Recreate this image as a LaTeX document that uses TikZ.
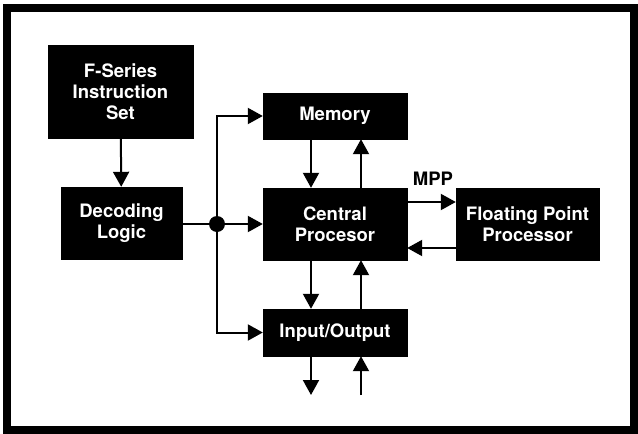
\documentclass[tikz,border=0pt]{standalone}
\usepackage{fontspec}
\setmainfont{TeX Gyre Heros}
\usetikzlibrary{arrows.meta}
\begin{document}
\begin{tikzpicture}[x=1pt,y=-1pt,
  blk/.style={fill=black,draw=black,text=white,inner sep=0pt,align=center,
    font=\fontsize{18.5}{21}\selectfont\bfseries},
  conn/.style={line width=2pt},
  arr/.style={conn,-{Triangle[length=15pt,width=16pt]}},
  lbl/.style={font=\fontsize{18.5}{21}\selectfont\bfseries}]
\useasboundingbox (0,0) rectangle (638,434);
\draw[line width=8pt] (7,8) rectangle (634,430);
\node[blk,minimum width=145pt,minimum height=93pt] (fs) at (120.5,91.5) {F-Series\\Instruction\\Set};
\node[blk,minimum width=121pt,minimum height=72pt] (dl) at (121.5,223) {Decoding\\Logic};
\node[blk,minimum width=144pt,minimum height=46pt] (mem) at (335,116) {Memory};
\node[blk,minimum width=144pt,minimum height=72pt] (cp) at (335,224) {Central\\Procesor};
\node[blk,minimum width=143pt,minimum height=72pt] (fpp) at (527.5,224) {Floating Point\\Processor};
\node[blk,minimum width=144pt,minimum height=47pt] (io) at (335,332.5) {Input/Output};
\coordinate (j) at (217,224);
\coordinate (o1) at (311,395);
\coordinate (o2) at (361,395);
\node[lbl] (mpp) at (433,179) {MPP};
% connectors
\draw[arr] (fs) -- (dl);
\draw[conn] (dl.east |- j) -- (j);
\draw[arr] (j) -- (cp.west |- j);
\fill (j) circle (8pt);
\draw[arr] (j) |- (mem.west);
\draw[arr] (j) |- (io.west);
\draw[arr] ([xshift=-24pt]mem.south) -- ([xshift=-24pt]cp.north);
\draw[arr] ([xshift=26pt]cp.north) -- ([xshift=26pt]mem.south);
\draw[arr] ([xshift=-24pt]cp.south) -- ([xshift=-24pt]io.north);
\draw[arr] ([xshift=26pt]io.north) -- ([xshift=26pt]cp.south);
\draw[arr] (io.south -| o1) -- (o1);
\draw[arr] (o2) -- (io.south -| o2);
\draw[arr] ([yshift=22pt]cp.east) -- ([yshift=22pt]fpp.west);
\draw[arr] ([yshift=-24pt]fpp.west) -- ([yshift=-24pt]cp.east);
\end{tikzpicture}
\end{document}
